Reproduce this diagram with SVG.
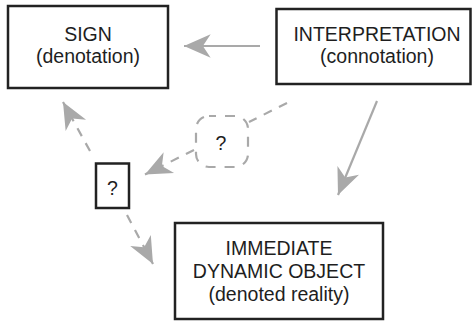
<svg xmlns="http://www.w3.org/2000/svg" width="472" height="321" viewBox="0 0 472 321">
  <defs>
    <marker id="head" markerUnits="userSpaceOnUse" orient="auto" refX="0" refY="0" markerWidth="30" markerHeight="30" viewBox="-25 -12 27 24" overflow="visible">
      <path d="M0,0 L-24,-10.5 L-17,0 L-24,10.5 Z" fill="#a9a9a9"/>
    </marker>
    <style>
      .box { fill: #fff; stroke: #222; stroke-width: 2.5; }
      .lbl { font-family: "Liberation Sans", Arial, sans-serif; font-size: 19.5px; fill: #1e1e1e; text-anchor: middle; }
      .arrow { fill: none; stroke: #a9a9a9; stroke-width: 2.2; }
      .dash { stroke-dasharray: 9 8; }
    </style>
  </defs>
  <rect width="472" height="321" fill="#fff"/>

  <g id="connectors">
    <line class="arrow" x1="260" y1="46" x2="184" y2="46" marker-end="url(#head)"/>
    <line class="arrow" x1="377" y1="101" x2="338" y2="195" marker-end="url(#head)"/>
    <line class="arrow dash" x1="287" y1="103" x2="249" y2="122"/>
    <line class="arrow dash" x1="194" y1="150" x2="145" y2="174.5" marker-end="url(#head)"/>
    <line class="arrow dash" x1="90" y1="151" x2="63" y2="102" marker-end="url(#head)"/>
    <line class="arrow dash" x1="127" y1="215" x2="153" y2="264" marker-end="url(#head)"/>
  </g>

  <g id="sign">
    <rect class="box" x="8" y="6" width="160" height="82"/>
    <text class="lbl" x="88" y="40.5">SIGN</text>
    <text class="lbl" x="88" y="63">(denotation)</text>
  </g>

  <g id="interpretation">
    <rect class="box" x="276.5" y="9" width="194" height="75"/>
    <text class="lbl" x="377" y="40.5">INTERPRETATION</text>
    <text class="lbl" x="377" y="63">(connotation)</text>
  </g>

  <g id="unknown-link">
    <rect x="196" y="116" width="52" height="51" rx="13" fill="#fff" stroke="#a9a9a9" stroke-width="2.2" stroke-dasharray="10 9" stroke-dashoffset="3"/>
    <text class="lbl" x="221" y="150">?</text>
  </g>

  <g id="unknown-node">
    <rect class="box" x="96" y="163.5" width="33" height="44.5"/>
    <text class="lbl" x="112.5" y="195">?</text>
  </g>

  <g id="object">
    <rect class="box" x="175" y="223" width="208" height="96"/>
    <text class="lbl" x="279" y="255">IMMEDIATE</text>
    <text class="lbl" x="279" y="278">DYNAMIC OBJECT</text>
    <text class="lbl" x="279" y="301">(denoted reality)</text>
  </g>
</svg>
